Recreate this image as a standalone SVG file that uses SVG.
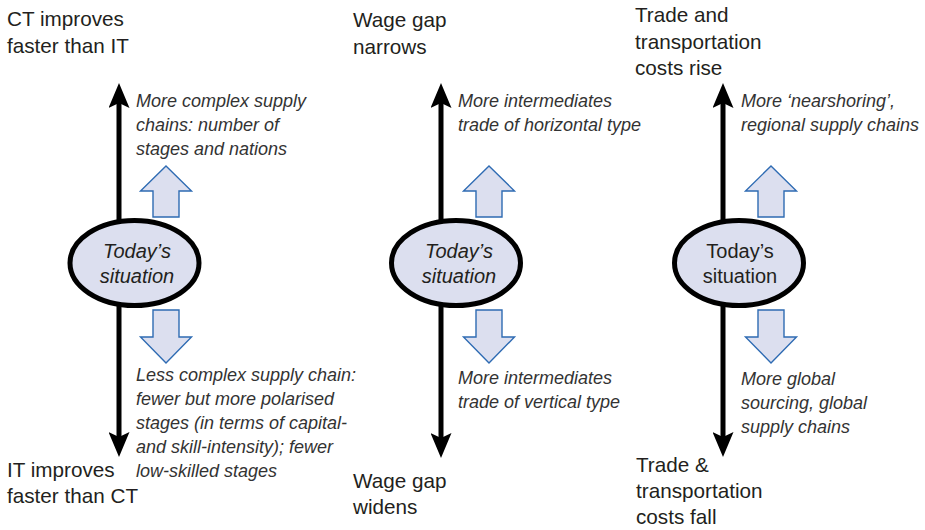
<svg xmlns="http://www.w3.org/2000/svg" width="925" height="530" viewBox="0 0 925 530">
<style>
.lbl{font-family:"Liberation Sans",Arial,sans-serif;font-size:20.7px;fill:#231f20}
.note{font-family:"Liberation Sans",Arial,sans-serif;font-size:18px;font-style:italic;fill:#333}
.ell{fill:#dcdfef;stroke:#000;stroke-width:5}
.etxt{font-family:"Liberation Sans",Arial,sans-serif;font-size:20px;fill:#231f20;text-anchor:middle}
.blk{fill:#dcdfef;stroke:#2e6bb3;stroke-width:1.4;stroke-linejoin:miter}
.axis{fill:none;stroke:#000;stroke-width:5}
</style>
<defs>
<marker id="ah" markerUnits="userSpaceOnUse" markerWidth="25" markerHeight="21" viewBox="0 0 25 21" refX="5" refY="10.5" orient="auto-start-reverse">
<path d="M0,0 L25,10.5 L0,21 L5,10.5 z" fill="#000"/>
</marker>
<path id="upblk" d="M0,0 L25.5,25 L13,25 L13,51 L-13,51 L-13,25 L-25.5,25 z"/>
<path id="dnblk" d="M0,0 L25.5,-26 L13,-26 L13,-53 L-13,-53 L-13,-26 L-25.5,-26 z"/>
</defs>
<g id="connectors">
<path class="axis" d="M119,103 L119,437" marker-start="url(#ah)" marker-end="url(#ah)"/>
<path class="axis" d="M441,103 L441,438" marker-start="url(#ah)" marker-end="url(#ah)"/>
<path class="axis" d="M723,103 L723,437" marker-start="url(#ah)" marker-end="url(#ah)"/>
<use href="#upblk" class="blk" x="166" y="166"/>
<use href="#dnblk" class="blk" x="166" y="363"/>
<use href="#upblk" class="blk" x="489" y="166"/>
<use href="#dnblk" class="blk" x="489" y="363"/>
<use href="#upblk" class="blk" x="771" y="166"/>
<use href="#dnblk" class="blk" x="771" y="363"/>
</g>
<g id="panel1">
<g id="today1"><ellipse class="ell" cx="134.5" cy="263" rx="64.5" ry="42.5"/>
<text class="etxt" font-style="italic" x="137" y="258">Today’s</text>
<text class="etxt" font-style="italic" x="137" y="283">situation</text></g>
<g id="ct-top"><text class="lbl" x="7" y="26">CT improves</text><text class="lbl" x="7" y="52.5">faster than IT</text></g>
<g id="it-bottom"><text class="lbl" x="7" y="477">IT improves</text><text class="lbl" x="7" y="503">faster than CT</text></g>
<g id="note1up"><text class="note" x="136" y="107">More complex supply</text><text class="note" x="136" y="131">chains: number of</text><text class="note" x="136" y="155">stages and nations</text></g>
<g id="note1dn"><text class="note" x="136" y="381">Less complex supply chain:</text><text class="note" x="136" y="405">fewer but more polarised</text><text class="note" x="136" y="429">stages (in terms of capital-</text><text class="note" x="136" y="453">and skill-intensity); fewer</text><text class="note" x="136" y="477">low-skilled stages</text></g>
</g>
<g id="panel2">
<g id="today2"><ellipse class="ell" cx="456" cy="263" rx="64.5" ry="42.5"/>
<text class="etxt" font-style="italic" x="459" y="258">Today’s</text>
<text class="etxt" font-style="italic" x="459" y="283">situation</text></g>
<g id="wage-top"><text class="lbl" x="353" y="27">Wage gap</text><text class="lbl" x="353" y="54">narrows</text></g>
<g id="wage-bottom"><text class="lbl" x="353" y="488">Wage gap</text><text class="lbl" x="353" y="514">widens</text></g>
<g id="note2up"><text class="note" x="458" y="107">More intermediates</text><text class="note" x="458" y="131">trade of horizontal type</text></g>
<g id="note2dn"><text class="note" x="458" y="384">More intermediates</text><text class="note" x="458" y="408">trade of vertical type</text></g>
</g>
<g id="panel3">
<g id="today3"><ellipse class="ell" cx="739" cy="263" rx="64.5" ry="42.5"/>
<text class="etxt" x="740" y="258">Today’s</text>
<text class="etxt" x="740" y="283">situation</text></g>
<g id="trade-top"><text class="lbl" x="635" y="22">Trade and</text><text class="lbl" x="635" y="48.5">transportation</text><text class="lbl" x="635" y="75">costs rise</text></g>
<g id="trade-bottom"><text class="lbl" x="636" y="472">Trade &amp;</text><text class="lbl" x="636" y="498">transportation</text><text class="lbl" x="636" y="524">costs fall</text></g>
<g id="note3up"><text class="note" x="741" y="107">More ‘nearshoring’,</text><text class="note" x="741" y="131">regional supply chains</text></g>
<g id="note3dn"><text class="note" x="741" y="385">More global</text><text class="note" x="741" y="409">sourcing, global</text><text class="note" x="741" y="433">supply chains</text></g>
</g>
</svg>
